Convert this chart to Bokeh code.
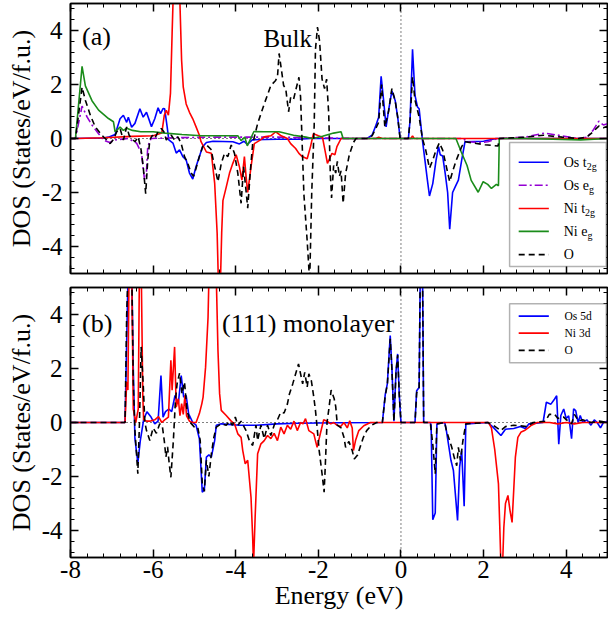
from bokeh.plotting import figure
from bokeh.models import (Range1d, SingleIntervalTicker, FixedTicker, LinearAxis, Span,
                          BoxAnnotation, Label, Arrow)
from bokeh.layouts import column
from bokeh.embed import file_html
from bokeh.resources import INLINE

FONT = "Liberation Serif"

# ---------------- tick labels ----------------
X_TICKS = [-8, -6, -4, -2, 0, 2, 4]
X_TICK_LABELS = ["-8", "-6", "-4", "-2", "0", "2", "4"]
Y_TICKS = [-4, -2, 0, 2, 4]
Y_TICK_LABELS = ["-4", "-2", "0", "2", "4"]

# ---------------- panel (a): bulk ----------------
os_t2g_a = [(-8.0, 0), (-7.2, 0.02), (-7.08, 0.05), (-6.92, 0.15), (-6.8, 0.73), (-6.72, 0.86),
            (-6.64, 0.6), (-6.6, 0.79), (-6.52, 0.42), (-6.44, 0.56), (-6.32, 1.1), (-6.24, 0.79),
            (-6.16, 0.97), (-6.04, 0.44), (-5.96, 0.73), (-5.88, 1.14), (-5.82, 0.92), (-5.76, 1.11),
            (-5.72, 1.1), (-5.66, 0.43), (-5.62, -0.05), (-5.52, -0.17), (-5.44, -0.54), (-5.36, -0.42),
            (-5.28, -0.67), (-5.2, -0.79), (-5.12, -1.28), (-5.04, -1.5), (-4.96, -1.04), (-4.88, -0.67),
            (-4.8, -0.3), (-4.71, -0.15), (-4.55, -0.1), (-4.07, -0.12), (-3.91, -0.2), (-3.8, -0.1),
            (-3.72, -0.22), (-3.6, -0.05), (-3.0, -0.03), (-2.47, -0.03), (-2.2, 0), (-0.82, 0),
            (-0.7, 0.12), (-0.62, 0.43), (-0.54, 0.79), (-0.48, 2.3), (-0.42, 1.41), (-0.36, 0.43),
            (-0.3, 1.04), (-0.22, 1.76), (-0.14, 1.41), (-0.08, 0.8), (-0.02, 0), (0.18, 0),
            (0.22, 0.67), (0.28, 3.3), (0.34, 1.6), (0.4, 1.17), (0.44, 1.1), (0.52, -0.06),
            (0.58, -0.8), (0.64, -1.54), (0.69, -2.13), (0.77, -1.67), (0.85, -0.8), (0.91, -0.3),
            (0.95, -0.6), (1.01, -0.65), (1.07, -1.28), (1.13, -2.0), (1.18, -3.36), (1.25, -2.0),
            (1.31, -1.8), (1.39, -1.54), (1.47, -0.8), (1.55, -0.12), (2.0, -0.1), (2.3, 0), (5.0, 0)]

os_eg_a = [(-8.0, 0), (-7.88, 0), (-7.72, 1.2), (-7.6, 0.8), (-7.48, 0.5), (-7.32, 0.18),
           (-7.2, -0.06), (-7.05, -0.15), (-6.92, -0.05), (-6.6, 0.0), (-6.4, -0.17), (-6.28, -0.55),
           (-6.21, -1.5), (-6.17, -1.5), (-6.13, -0.3), (-6.05, 0.0), (-5.5, 0.03), (-4.5, 0.05),
           (-3.0, 0.05), (-2.0, 0.02), (-1.0, 0.0), (1.5, 0.0), (1.6, -0.12), (1.9, -0.15),
           (2.1, -0.12), (2.35, 0.0), (3.0, 0.05), (3.47, 0.2), (3.9, 0.1), (4.3, 0.0), (4.5, 0.05),
           (4.65, 0.3), (4.79, 0.64), (4.9, 0.5), (5.0, 0.55)]

ni_t2g_a = [(-8.0, 0), (-7.88, 0), (-7.2, 0.03), (-6.5, 0.08), (-6.0, 0.1), (-5.79, 0.2),
            (-5.73, 0.86), (-5.68, 1.04), (-5.63, 0.86), (-5.58, 1.67), (-5.54, 3.9), (-5.5, 6.0),
            (-5.42, 7.0), (-5.36, 5.5), (-5.31, 2.89), (-5.27, 1.9), (-5.2, 1.28), (-5.12, 0.97),
            (-5.04, 0.73), (-4.96, 0.43), (-4.88, 0.12), (-4.84, -0.12), (-4.71, -0.5), (-4.59, -0.55),
            (-4.51, -1.65), (-4.45, -3.5), (-4.42, -5.3), (-4.37, -5.3), (-4.34, -3.5), (-4.31, -2.3),
            (-4.23, -1.8), (-4.15, -1.28), (-4.07, -0.92), (-3.99, -0.6), (-3.91, -1.05), (-3.85, -1.54),
            (-3.79, -0.67), (-3.75, -1.4), (-3.71, -2.0), (-3.63, -1.05), (-3.55, -0.19), (-3.4, -0.05),
            (-3.31, 0.06), (-3.15, 0.1), (-3.03, 0.25), (-2.9, 0.1), (-2.75, 0.0), (-2.67, -0.19),
            (-2.55, -0.37), (-2.47, -0.55), (-2.39, -0.67), (-2.27, -0.75), (-2.19, -0.3), (-2.12, 0.18),
            (-2.0, 0.1), (-1.9, 0.05), (-1.84, -0.43), (-1.78, -0.92), (-1.73, -0.75), (-1.67, -0.55),
            (-1.6, -0.6), (-1.55, -0.3), (-1.45, 0.0), (-0.6, 0.0), (-0.54, 0.05), (-0.45, 0.0),
            (0.24, 0.0), (0.28, 0.1), (0.32, 0.0), (5.0, 0.0)]

ni_eg_a = [(-8.0, 0), (-7.88, 0), (-7.72, 2.67), (-7.64, 1.95), (-7.48, 1.4), (-7.32, 1.05),
           (-7.08, 0.74), (-6.96, 0.62), (-6.92, 0.25), (-6.8, 0.42), (-6.72, 0.3), (-6.64, 0.38),
           (-6.5, 0.3), (-6.3, 0.25), (-6.0, 0.25), (-5.71, 0.2), (-5.3, 0.15), (-4.83, 0.1),
           (-4.4, 0.1), (-3.95, 0.1), (-3.87, -0.08), (-3.78, 0.05), (-3.72, -0.27), (-3.56, 0.26),
           (-3.3, 0.25), (-2.95, 0.25), (-2.6, 0.12), (-2.3, 0.05), (-2.15, 0.0), (-1.9, 0.08),
           (-1.63, 0.2), (-1.45, 0.25), (-1.4, 0.0), (-0.5, 0.0), (0.5, 0.0), (1.33, 0.0),
           (1.46, -0.5), (1.6, -1.0), (1.7, -1.55), (1.87, -1.99), (1.99, -1.6), (2.1, -1.7),
           (2.19, -1.85), (2.31, -1.7), (2.36, -1.75), (2.38, 0.0), (3.0, 0.0), (4.35, -0.05), (5.0, 0.0)]

o_a = [(-8.0, 0), (-7.88, 0), (-7.72, 1.9), (-7.64, 1.42), (-7.52, 0.86), (-7.4, 0.43), (-7.24, 0.12),
       (-7.12, -0.06), (-7.04, -0.19), (-6.96, -0.03), (-6.88, 0.25), (-6.8, 0.37), (-6.72, -0.06),
       (-6.64, 0.43), (-6.58, 0.12), (-6.52, 0.0), (-6.44, -0.12), (-6.36, 0.06), (-6.29, -0.43),
       (-6.24, -1.05), (-6.18, -2.04), (-6.13, -0.8), (-6.08, -0.06), (-6.02, 0.12), (-5.96, 0.0),
       (-5.88, 0.25), (-5.8, 0.37), (-5.74, 0.25), (-5.68, -0.06), (-5.62, 0.06), (-5.56, 0.12),
       (-5.48, -0.06), (-5.4, 0.06), (-5.32, -0.19), (-5.24, -0.67), (-5.16, -0.92), (-5.08, -1.28),
       (-5.02, -1.4), (-4.96, -1.1), (-4.88, -0.67), (-4.8, -0.3), (-4.7, -0.25), (-4.6, -0.4),
       (-4.43, -1.6), (-4.35, -0.92), (-4.27, -0.55), (-4.19, -0.67), (-4.11, -0.24), (-4.03, -0.55),
       (-3.95, -1.28), (-3.87, -2.4), (-3.81, -1.05), (-3.76, -1.79), (-3.71, -2.58), (-3.65, -1.28),
       (-3.59, -0.19), (-3.47, 0.55), (-3.31, 1.28), (-3.15, 1.96), (-3.04, 2.14), (-2.99, 2.27),
       (-2.95, 3.15), (-2.91, 2.72), (-2.84, 1.96), (-2.79, 1.85), (-2.72, 0.99), (-2.67, 1.53),
       (-2.6, 1.45), (-2.55, 1.77), (-2.47, 2.27), (-2.43, 1.53), (-2.35, -2.06), (-2.27, -3.8),
       (-2.21, -5.3), (-2.16, -2.0), (-2.1, 0.5), (-2.07, 3.3), (-2.02, 4.13), (-1.97, 3.6),
       (-1.91, 2.2), (-1.85, 1.85), (-1.8, 2.2), (-1.75, 0.95), (-1.71, -1.3), (-1.68, -2.2),
       (-1.63, -1.0), (-1.58, -1.28), (-1.54, -0.85), (-1.49, -1.4), (-1.45, -1.2), (-1.4, -2.4),
       (-1.34, -1.3), (-1.25, -0.6), (-1.15, -0.15), (-1.09, 0.0), (-0.82, 0.0), (-0.7, 0.1),
       (-0.6, 0.4), (-0.54, 0.6), (-0.47, 2.0), (-0.39, 0.43), (-0.3, 1.0), (-0.22, 1.85),
       (-0.14, 1.4), (-0.08, 0.8), (-0.02, 0.0), (0.18, 0.0), (0.22, 0.67), (0.28, 2.28),
       (0.34, 1.42), (0.44, 0.8), (0.52, 0.0), (0.6, -0.43), (0.69, -1.1), (0.77, -0.8),
       (0.85, -0.43), (0.93, -0.16), (1.01, -0.43), (1.1, -1.05), (1.18, -1.6), (1.26, -1.17),
       (1.34, -0.8), (1.47, -0.3), (1.55, -0.12), (2.03, -0.23), (2.35, -0.28), (2.38, 0.0),
       (3.0, 0.05), (3.45, 0.12), (3.9, 0.05), (4.3, 0.0), (4.5, 0.05), (4.65, 0.25), (4.79, 0.46),
       (4.9, 0.4), (5.0, 0.45)]

# ---------------- panel (b): (111) monolayer ----------------
os_5d_b = [(-8.0, 0), (-6.68, 0), (-6.64, 3.0), (-6.6, 6.0), (-6.56, 5.5), (-6.52, 6.0), (-6.48, 2.0),
           (-6.44, -0.6), (-6.37, -1.5), (-6.31, -0.67), (-6.23, 0.1), (-6.15, 0.4), (-6.05, 0.2),
           (-5.96, -0.05), (-5.88, 0.05), (-5.81, 1.74), (-5.76, 0.2), (-5.7, 0.4), (-5.62, 0.5),
           (-5.55, 0.4), (-5.47, 1.0), (-5.39, 0.7), (-5.32, 1.74), (-5.26, 0.94), (-5.2, 1.0),
           (-5.14, 0.32), (-5.04, 0.0), (-4.96, -0.1), (-4.88, -0.6), (-4.81, -2.58), (-4.76, -2.5),
           (-4.71, -1.28), (-4.65, -1.2), (-4.59, -1.28), (-4.51, -0.67), (-4.47, -0.1), (-4.35, -0.05),
           (-3.9, -0.1), (-3.5, -0.1), (-3.0, -0.05), (-2.5, -0.03), (-1.5, -0.01), (-0.45, 0.0),
           (-0.38, 1.04), (-0.33, 1.43), (-0.26, 3.22), (-0.22, 2.05), (-0.17, 0.05), (-0.12, 1.9),
           (-0.08, 2.54), (-0.04, 1.0), (0.0, 0.0), (0.34, 0.0), (0.38, 1.18), (0.44, 1.3), (0.47, 6.0),
           (0.52, 6.0), (0.55, 0.0), (0.71, 0.0), (0.73, -0.1), (0.77, -3.6), (0.83, -3.35),
           (0.87, -0.05), (1.06, 0.0), (1.1, -0.3), (1.21, -1.4), (1.27, -1.78), (1.37, -3.63),
           (1.42, -1.65), (1.47, -1.04), (1.53, -3.1), (1.57, -0.05), (2.1, 0.0), (2.23, -0.17),
           (2.42, -0.48), (2.53, -0.25), (2.73, -0.22), (2.89, -0.15), (3.01, -0.22), (3.1, -0.05),
           (3.44, 0.0), (3.52, 0.75), (3.63, 0.68), (3.72, 0.87), (3.77, 0.99), (3.82, -0.8),
           (3.87, 0.26), (3.94, 0.5), (4.0, 0.15), (4.06, 0.25), (4.13, -0.6), (4.18, 0.51),
           (4.23, 0.44), (4.29, 0.0), (4.34, 0.26), (4.4, 0.0), (4.5, 0.1), (4.6, -0.1), (4.68, 0.1),
           (4.75, 0.0), (4.83, -0.2), (4.9, 0.0), (5.0, 0.05)]

ni_3d_b = [(-8.0, 0), (-6.68, 0), (-6.64, 1.5), (-6.61, 1.2), (-6.58, 6.0), (-6.52, 6.0), (-6.48, 0.5),
           (-6.42, 0.0), (-6.36, 0.5), (-6.33, 6.0), (-6.29, 6.0), (-6.25, 1.0), (-6.23, 0.1),
           (-6.15, 0.05), (-6.08, 0.05), (-5.96, 0.1), (-5.87, 0.22), (-5.79, 0.0), (-5.72, 0.1),
           (-5.63, 0.2), (-5.57, 2.3), (-5.54, 1.2), (-5.48, 2.8), (-5.44, 0.57), (-5.39, 0.88),
           (-5.35, 0.25), (-5.31, 0.7), (-5.27, 0.3), (-5.23, 1.0), (-5.19, 0.25), (-5.12, 0.05),
           (-5.04, 0.0), (-4.96, 0.0), (-4.88, 0.33), (-4.82, 0.7), (-4.79, 0.94), (-4.73, 2.05),
           (-4.67, 3.9), (-4.64, 6.0), (-4.48, 6.0), (-4.43, 2.67), (-4.39, 1.06), (-4.35, 0.45),
           (-4.23, 0.26), (-4.11, 0.05), (-4.03, -0.05), (-3.95, -0.42), (-3.87, -0.55), (-3.83, -1.04),
           (-3.77, -1.53), (-3.71, -1.4), (-3.63, -2.77), (-3.59, -4.25), (-3.57, -5.3), (-3.53, -3.5),
           (-3.47, -1.16), (-3.39, -0.79), (-3.31, -0.67), (-3.23, -0.48), (-3.15, -0.6), (-3.07, -0.4),
           (-2.99, -0.67), (-2.91, -0.17), (-2.83, -0.42), (-2.75, -0.1), (-2.67, -0.25), (-2.59, 0.05),
           (-2.51, -0.3), (-2.43, 0.0), (-2.37, -0.05), (-2.31, 0.14), (-2.23, -0.3), (-2.11, -0.42),
           (-2.03, -0.92), (-1.95, -0.4), (-1.87, 0.1), (-1.79, 0.05), (-1.7, -0.05), (-1.63, 0.0),
           (-1.55, -0.1), (-1.46, -0.15), (-1.38, 0.0), (-1.3, -0.2), (-1.24, 0.06), (-1.18, -0.2),
           (-1.15, -1.04), (-1.1, -0.67), (-1.02, -0.3), (-0.9, -0.12), (-0.74, 0.0), (0.0, 0.0),
           (2.12, 0.0), (2.19, -0.2), (2.27, -1.0), (2.36, -2.27), (2.39, -3.75), (2.42, -5.3),
           (2.46, -5.3), (2.49, -3.9), (2.53, -3.0), (2.59, -2.7), (2.64, -3.26), (2.69, -3.7),
           (2.73, -2.5), (2.77, -1.28), (2.83, -0.55), (2.91, -0.35), (2.99, -0.3), (3.08, -0.2),
           (3.16, -0.1), (3.3, 0.0), (3.6, 0.0), (3.8, -0.05), (4.0, 0.0), (4.2, -0.05), (4.4, 0.0),
           (5.0, 0.0)]

o_b = [(-8.0, 0), (-6.68, 0), (-6.64, 4.0), (-6.6, 6.0), (-6.56, 5.0), (-6.52, 6.0), (-6.48, 1.5),
       (-6.44, -0.3), (-6.37, -1.9), (-6.33, 0.0), (-6.29, 2.8), (-6.24, 1.43), (-6.2, 0.0),
       (-6.16, -0.3), (-6.08, -0.67), (-6.0, -0.2), (-5.92, -0.4), (-5.84, -0.05), (-5.78, -0.1),
       (-5.73, -0.67), (-5.69, -1.28), (-5.65, -0.9), (-5.61, -1.53), (-5.57, -2.03), (-5.51, -0.67),
       (-5.46, 0.8), (-5.42, 1.43), (-5.36, 1.83), (-5.3, 1.06), (-5.24, 1.5), (-5.18, 0.45),
       (-5.1, 0.0), (-5.0, -0.17), (-4.92, -0.17), (-4.86, -0.67), (-4.81, -2.27), (-4.76, -2.55),
       (-4.71, -1.4), (-4.65, -2.0), (-4.59, -1.16), (-4.53, -0.55), (-4.47, -0.17), (-4.35, -0.05),
       (-4.23, -0.1), (-4.15, 0.05), (-4.08, -0.1), (-4.01, 0.2), (-3.95, -0.1), (-3.87, 0.05),
       (-3.75, -0.3), (-3.67, -0.67), (-3.59, -0.85), (-3.51, -0.1), (-3.47, -0.67), (-3.39, -0.1),
       (-3.31, -0.6), (-3.23, -0.1), (-3.15, -0.48), (-3.07, -0.1), (-2.99, 0.1), (-2.91, 0.38),
       (-2.83, 0.35), (-2.75, 0.68), (-2.7, 1.06), (-2.62, 1.43), (-2.48, 2.17), (-2.43, 1.8),
       (-2.38, 1.43), (-2.33, 1.86), (-2.27, 1.31), (-2.23, 1.8), (-2.17, 1.55), (-2.11, 0.94),
       (-2.07, 0.45), (-2.03, -0.17), (-1.98, -1.04), (-1.91, -1.9), (-1.86, -2.58), (-1.83, -1.53),
       (-1.79, 0.0), (-1.75, 0.45), (-1.69, 1.2), (-1.62, 0.9), (-1.58, 0.6), (-1.54, -0.1),
       (-1.45, -0.2), (-1.38, -0.55), (-1.34, -0.92), (-1.26, -0.7), (-1.18, -1.04), (-1.13, -1.35),
       (-1.05, -1.2), (-0.99, -0.92), (-0.91, -0.55), (-0.83, -0.3), (-0.71, -0.1), (-0.59, 0.0),
       (-0.45, 0.0), (-0.38, 1.0), (-0.33, 1.4), (-0.26, 3.1), (-0.22, 2.0), (-0.17, 0.05),
       (-0.12, 1.85), (-0.08, 2.5), (-0.04, 1.0), (0.0, 0.0), (0.34, 0.0), (0.38, 1.1), (0.44, 1.3),
       (0.47, 6.0), (0.52, 6.0), (0.55, 0.0), (0.71, 0.0), (0.77, -0.8), (0.83, -1.9), (0.87, -0.05),
       (1.06, 0.0), (1.1, -0.3), (1.23, -0.92), (1.29, -1.3), (1.35, -1.6), (1.39, -0.92),
       (1.44, -1.4), (1.5, -0.67), (1.57, -0.05), (2.1, 0.0), (2.23, -0.1), (2.42, -0.3),
       (2.53, -0.15), (2.73, -0.1), (3.06, -0.15), (3.2, 0.0), (3.5, 0.05), (3.59, 0.3), (3.72, 0.3),
       (3.8, 0.15), (3.87, 0.2), (3.94, 0.2), (4.0, 0.1), (4.06, 0.05), (4.13, -0.05), (4.2, 0.3),
       (4.3, 0.05), (4.4, 0.1), (4.6, 0.0), (4.8, 0.05), (5.0, 0.0)]

BLUE, PURPLE, RED, GREEN, BLACK = "#0000ff", "#9400d3", "#ff0000", "#1a8c1a", "#000000"

# series definitions: (data, colour, dash, base label, subscript)
series_a = [(os_t2g_a, BLUE, "solid", "Os t", "2g"),
            (os_eg_a, PURPLE, "8 3 2 3", "Os e", "g"),
            (ni_t2g_a, RED, "solid", "Ni t", "2g"),
            (ni_eg_a, GREEN, "solid", "Ni e", "g"),
            (o_a, BLACK, "6 4", "O", "")]
series_b = [(os_5d_b, BLUE, "solid", "Os 5d", ""),
            (ni_3d_b, RED, "solid", "Ni 3d", ""),
            (o_b, BLACK, "6 4", "O", "")]

# approximate Times-like advance widths (em) for legend subscript placement
CW = {"O": 0.722, "s": 0.389, " ": 0.25, "t": 0.278, "e": 0.444, "N": 0.722, "i": 0.278}

PX_PER_X = 537 / 13.0

# tick positions for the label-less frame sides (major every 2, minor every 0.4)
X_MAJOR_POS = [float(v) for v in X_TICKS]
X_MINOR_POS = [round(-8 + 0.4 * k, 2) for k in range(33) if k % 5 != 0]
Y_MAJOR_POS = [float(v) for v in Y_TICKS]
Y_MINOR_POS = [round(-4.8 + 0.4 * k, 2) for k in range(25) if (k - 2) % 5 != 0]


def style_axis(ax):
    ax.axis_line_color = "black"
    ax.axis_line_width = 1.5
    ax.major_tick_line_color = "black"
    ax.minor_tick_line_color = "black"
    ax.major_tick_line_width = 1.5
    ax.minor_tick_line_width = 1
    ax.major_tick_out = 0
    ax.minor_tick_out = 0


def add_bare_side(p, side, majors, minors):
    """Ticks (pointing inward) without any labels on one side of the frame."""
    ax_min = LinearAxis(ticker=FixedTicker(ticks=[], minor_ticks=minors))
    style_axis(ax_min)
    ax_min.minor_tick_in = 4
    ax_min.major_tick_in = 0
    p.add_layout(ax_min, side)
    ax_maj = LinearAxis(ticker=FixedTicker(ticks=[], minor_ticks=majors))
    style_axis(ax_maj)
    ax_maj.minor_tick_line_width = 1.5
    ax_maj.minor_tick_in = 8
    ax_maj.major_tick_in = 0
    ax_maj.axis_line_color = None
    p.add_layout(ax_maj, side)


def make_fig(height, top, bottom, show_x):
    p = figure(width=608, height=height, x_range=Range1d(-8, 5), y_range=Range1d(-5, 5),
               output_backend="svg", toolbar_location=None,
               x_axis_location="below" if show_x else None,
               min_border_left=70, min_border_right=1, min_border_top=top, min_border_bottom=bottom)
    p.grid.visible = False
    p.outline_line_color = "black"
    p.outline_line_width = 1.5
    p.background_fill_color = "white"
    p.border_fill_color = "white"

    labelled = [p.left[0]]
    if show_x:
        bx = p.below[0]
        bx.ticker = SingleIntervalTicker(interval=2, num_minor_ticks=5)
        bx.major_label_overrides = dict(zip(X_TICKS, X_TICK_LABELS))
        bx.axis_label = "Energy (eV)"
        bx.major_label_standoff = 3
        bx.axis_label_standoff = 0
        labelled.append(bx)
    ly = p.left[0]
    ly.ticker = SingleIntervalTicker(interval=2, num_minor_ticks=5)
    ly.major_label_overrides = dict(zip(Y_TICKS, Y_TICK_LABELS))
    ly.axis_label = "DOS (States/eV/f.u.)"
    ly.major_label_standoff = 8
    ly.axis_label_standoff = 3
    for ax in labelled:
        style_axis(ax)
        ax.major_tick_in = 8
        ax.minor_tick_in = 4
        ax.major_label_text_font = FONT
        ax.major_label_text_font_size = "25px"
        ax.major_label_text_color = "black"
        ax.axis_label_text_font = FONT
        ax.axis_label_text_font_size = "26px"
        ax.axis_label_text_font_style = "normal"
        ax.axis_label_text_color = "black"

    if not show_x:
        add_bare_side(p, "below", X_MAJOR_POS, X_MINOR_POS)
    add_bare_side(p, "above", X_MAJOR_POS, X_MINOR_POS)
    add_bare_side(p, "right", Y_MAJOR_POS, Y_MINOR_POS)

    p.add_layout(Span(location=0, dimension="height", line_color="black", line_width=1,
                      line_dash="1 3", level="underlay"))
    p.add_layout(Span(location=0, dimension="width", line_color="black", line_width=1,
                      line_dash="1 3", level="underlay"))
    return p


def draw(p, series):
    for data, color, dash, _, _ in series:
        xs = [d[0] for d in data]
        ys = [d[1] for d in data]
        p.line(xs, ys, line_color=color, line_width=1.6, line_dash=dash)


def legend(p, series, box, rows_y, fs, sub_fs, line_x0, line_x1, text_x, y_unit):
    left, right, top, bottom = box
    p.add_layout(BoxAnnotation(left=left, right=right, top=top, bottom=bottom,
                               fill_color="white", fill_alpha=1.0,
                               line_color="black", line_width=1.5))
    for (data, color, dash, base, sub), y in zip(series, rows_y):
        p.add_layout(Arrow(x_start=line_x0, y_start=y, x_end=line_x1, y_end=y, end=None,
                           line_color=color, line_width=1.6, line_dash=dash))
        p.add_layout(Label(x=text_x, y=y, text=base, text_font=FONT,
                           text_font_size=f"{fs}px", text_baseline="middle", text_color="black"))
        if sub:
            w = sum(CW.get(c, 0.5) for c in base) * fs / PX_PER_X
            p.add_layout(Label(x=text_x + w, y=y - 4.5 / y_unit, text=sub, text_font=FONT,
                               text_font_size=f"{sub_fs}px", text_baseline="middle",
                               text_color="black"))


pa = make_fig(280, 3, 7, False)
draw(pa, series_a)
pa.add_layout(Label(x=-7.72, y=3.78, text="(a)", text_font=FONT, text_font_size="26px",
                    text_baseline="alphabetic", text_color="black"))
pa.add_layout(Label(x=-3.33, y=3.69, text="Bulk", text_font=FONT, text_font_size="25px",
                    text_baseline="alphabetic", text_color="black"))
legend(pa, series_a, (2.63, 4.97, -0.15, -4.74), [-0.88, -1.73, -2.59, -3.44, -4.3],
       14, 10, 2.85, 3.58, 3.94, 27.0)

pb = make_fig(343, 7, 66, True)
draw(pb, series_b)
pb.add_layout(Label(x=-7.72, y=3.68, text="(b)", text_font=FONT, text_font_size="26px",
                    text_baseline="alphabetic", text_color="black"))
pb.add_layout(Label(x=-4.33, y=3.68, text="(111) monolayer", text_font=FONT, text_font_size="26px",
                    text_baseline="alphabetic", text_color="black"))
legend(pb, series_b, (2.63, 4.97, 4.4, 2.21), [3.94, 3.31, 2.67],
       11.5, 9, 2.85, 3.58, 3.96, 27.0)

layout = column(pa, pb, spacing=0)
open("out.html", "w").write(file_html(layout, INLINE))
